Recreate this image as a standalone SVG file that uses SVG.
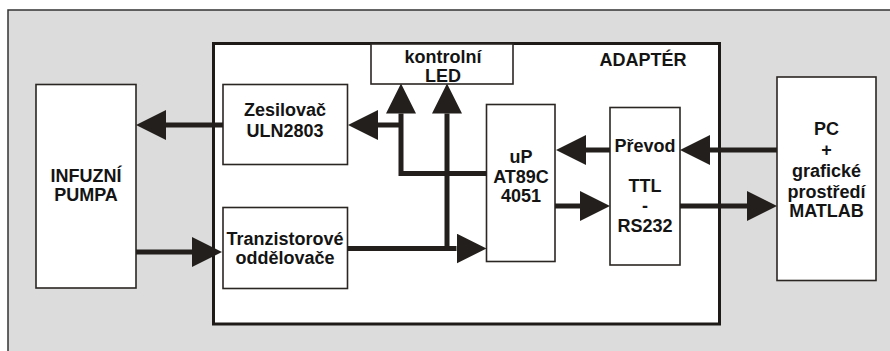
<svg xmlns="http://www.w3.org/2000/svg" width="890" height="351" viewBox="0 0 890 351">
<defs>
<style>
.box{fill:#fff;stroke:#2a2624;stroke-width:1.6}
.t{font-family:"Liberation Sans",Arial,sans-serif;font-weight:bold;font-size:18px;fill:#141414;text-anchor:middle}
.c{fill:none;stroke:#231f1c;stroke-width:5}
</style>
<marker id="ah" viewBox="0 0 30 30" refX="0" refY="15" markerWidth="30" markerHeight="30" markerUnits="userSpaceOnUse" orient="auto">
<path d="M0,0 L30,15 L0,30 z" fill="#231f1c"/>
</marker>
</defs>
<rect x="0" y="0" width="890" height="351" fill="#fff"/>
<rect x="8" y="10" width="900" height="360" fill="#dcdcdc" stroke="#333" stroke-width="1.5"/>
<g id="adapter">
<rect x="213.5" y="43.5" width="506" height="280.5" fill="#fff" stroke="#1e1a18" stroke-width="3"/>
<text class="t" x="643" y="66">ADAPTÉR</text>
</g>
<g id="led">
<rect class="box" x="371" y="44" width="142" height="40"/>
<text class="t" x="443" y="63">kontrolní</text>
<text class="t" x="443" y="82">LED</text>
</g>
<g id="pumpa">
<rect class="box" x="36" y="84.5" width="100" height="203.5"/>
<text class="t" x="86" y="182">INFUZNÍ</text>
<text class="t" x="86" y="200.5">PUMPA</text>
</g>
<g id="zesilovac">
<rect class="box" x="223" y="84.5" width="124.5" height="80"/>
<text class="t" x="285" y="115.5">Zesilovač</text>
<text class="t" x="285" y="136.5">ULN2803</text>
</g>
<g id="tranzistorove">
<rect class="box" x="223" y="207.5" width="124.5" height="81"/>
<text class="t" x="285" y="244.5">Tranzistorové</text>
<text class="t" x="285" y="263.5">oddělovače</text>
</g>
<g id="up">
<rect class="box" x="486.5" y="104.5" width="68.5" height="157"/>
<text class="t" x="521" y="163">uP</text>
<text class="t" x="521" y="182.5">AT89C</text>
<text class="t" x="521" y="202">4051</text>
</g>
<g id="prevod">
<rect class="box" x="610" y="107.5" width="70" height="157.5"/>
<text class="t" x="645" y="152">Převod</text>
<text class="t" x="645" y="192">TTL</text>
<text class="t" x="645" y="212">-</text>
<text class="t" x="645" y="232">RS232</text>
</g>
<g id="pc">
<rect class="box" x="777" y="77" width="99" height="203.5"/>
<text class="t" x="826.5" y="135">PC</text>
<text class="t" x="826.5" y="155.5">+</text>
<text class="t" x="826.5" y="177">grafické</text>
<text class="t" x="826.5" y="197.5">prostředí</text>
<text class="t" x="826.5" y="217">MATLAB</text>
</g>
<g id="connectors">
<path class="c" d="M223,125 H166" marker-end="url(#ah)"/>
<path class="c" d="M486.5,173.5 H401 V113.5" marker-end="url(#ah)"/>
<path class="c" d="M401,125 H378" marker-end="url(#ah)"/>
<path class="c" d="M347.5,248.5 H456.5" marker-end="url(#ah)"/>
<path class="c" d="M447,251 V113.5" marker-end="url(#ah)"/>
<path class="c" d="M136,252 H192" marker-end="url(#ah)"/>
<path class="c" d="M555,206 H580" marker-end="url(#ah)"/>
<path class="c" d="M610,150 H586" marker-end="url(#ah)"/>
<path class="c" d="M777,150 H710" marker-end="url(#ah)"/>
<path class="c" d="M680,206 H747" marker-end="url(#ah)"/>
</g>
</svg>
